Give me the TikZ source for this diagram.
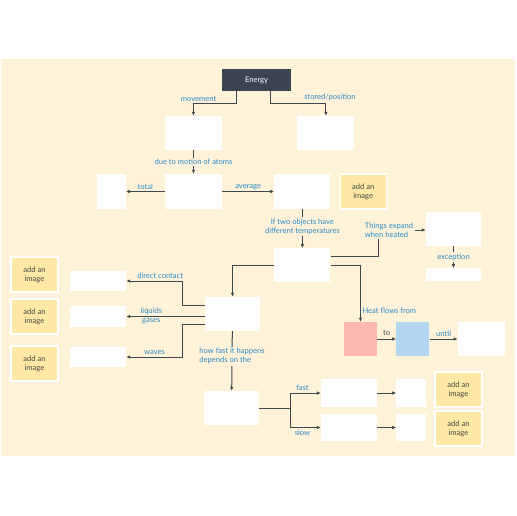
\documentclass[tikz,border=0pt]{standalone}
\usepackage{fontspec}
\setmainfont{Lato}
\usepackage{xcolor}
\usepackage{tikz}
\usetikzlibrary{positioning,arrows.meta}
\definecolor{cream}{HTML}{FEF2D9}
\definecolor{slate}{HTML}{3B4551}
\definecolor{wire}{HTML}{3F4650}
\definecolor{inkblue}{HTML}{2A8BC9}
\definecolor{butter}{HTML}{FFE8A3}
\definecolor{hotpink}{HTML}{FFB9B1}
\definecolor{coldblue}{HTML}{B3D7F1}
\definecolor{graytext}{HTML}{474747}

\begin{document}
\begin{tikzpicture}[x=1bp, y=-1bp,
  font=\fontsize{7.6}{9}\selectfont,
  box/.style={fill=white, minimum width=56bp, minimum height=34bp, inner sep=0pt},
  imgbox/.style={fill=butter, draw=white, line width=1.2bp, minimum width=46bp,
      minimum height=35bp, align=center, text=graytext, inner sep=0pt},
  lbl/.style={text=inkblue, inner sep=1.5bp},
  midlbl/.style={lbl, fill=cream, align=center},
  bare/.style={draw=wire, line width=1bp},
  link/.style={bare, -{Latex[length=4bp,width=3.5bp]}},
]
\useasboundingbox (0,0) rectangle (516,516);
\fill[cream] (1,59) rectangle (515,456);

% top of the map
\node[box, fill=slate, text=white, minimum width=69bp, minimum height=22bp] (energy) at (256.5,80) {Energy};
\node[box, minimum width=57bp] (moveBox) at (193.5,133) {};
\node[box, minimum width=57bp, right=75bp of moveBox] (storeBox) {};
\node[box, minimum width=57bp, minimum height=35bp] (motionBox) at (193.5,191.5) {};
\node[box, minimum width=29bp, minimum height=35bp, left=39bp of motionBox] (totalBox) {};
\node[box, minimum height=35bp, right=52bp of motionBox] (avgBox) {};
\node[imgbox, right=9bp of avgBox] (avgImg) {add an\\image};
\node[box, below=39bp of avgBox] (tempBox) {};

% expansion
\node[lbl, align=left] (expandLbl) at (389,230) {Things expand\\when heated};
\node[box, minimum width=55bp] (expandBox) at (453.5,229) {};
\node[box, minimum width=55bp, minimum height=13bp, below=22bp of expandBox] (exceptBox) {};

% heat flow
\node[box, minimum width=55bp] (heatBox) at (232.5,314) {};
\node[box, minimum width=33bp, fill=hotpink] (hotBox) at (360.5,339) {};
\node[box, minimum width=33bp, fill=coldblue, right=19bp of hotBox] (coldBox) {};
\node[box, minimum width=47bp, right=28bp of coldBox] (untilBox) {};

% ways of transfer
\node[box, minimum height=20bp] (contactBox) at (98,281) {};
\node[box, minimum height=21bp] (fluidBox) at (98,316.5) {};
\node[box, minimum height=20bp] (waveBox) at (98,357) {};
\node[imgbox, minimum width=47bp] (contactImg) at (34.5,274.5) {add an\\image};
\node[imgbox, minimum width=47bp] (fluidImg) at (34.5,316.5) {add an\\image};
\node[imgbox, minimum width=47bp] (waveImg) at (34.5,363.5) {add an\\image};

% rate
\node[box, minimum width=55bp] (rateBox) at (231.5,408) {};
\node[box, minimum height=28bp] (fastBox) at (349,393) {};
\node[box, minimum height=27bp] (slowBox) at (349,427.5) {};
\node[box, minimum width=30bp, minimum height=28bp, right=19bp of fastBox] (fastEnd) {};
\node[box, minimum width=30bp, minimum height=27bp, right=19bp of slowBox] (slowEnd) {};
\node[imgbox, minimum width=47bp] (fastImg) at (458.5,389.5) {add an\\image};
\node[imgbox, minimum width=47bp] (slowImg) at (458.5,428.5) {add an\\image};

\draw[link] ([xshift=-20.5bp]energy.south) -- ++(0,12) -| node[lbl, pos=0.44, above]{movement} (moveBox.north);
\draw[link] ([xshift=13.5bp]energy.south) -- ++(0,12) -| node[lbl, pos=0.5, above, xshift=4bp]{stored/position} (storeBox.north);
\draw[link] (moveBox) -- node[midlbl]{due to motion of atoms} (motionBox);
\draw[link] (motionBox) -- node[lbl, above]{total} (totalBox);
\draw[link] (motionBox) -- node[lbl, above]{average} (avgBox);
\draw[link] (avgBox) -- node[midlbl, pos=0.45]{If two objects have\\different temperatures} (tempBox);
\draw[bare] ([yshift=9bp]tempBox.east) -| ([xshift=-11bp]expandLbl.south);
\draw[link] (expandLbl.east) -- (expandLbl.east -| expandBox.west);
\draw[link] (expandBox) -- node[midlbl]{exception} (exceptBox);
\draw[link] (tempBox.west) -| (heatBox.north);
\draw[link] (tempBox.east) -| node[lbl, pos=0.9, right]{Heat flows from} (hotBox.north);
\draw[link] (hotBox) -- node[above, text=graytext]{to} (coldBox);
\draw[link] (coldBox) -- node[lbl, above]{until} (untilBox);
\draw[link] ([yshift=9bp]heatBox.west) -- ++(-22,0) |- node[lbl, pos=0.7, above]{direct contact} (contactBox.east);
\draw[link] (fluidBox.east -| heatBox.west) -- node[lbl, pos=0.68, above]{liquids} node[lbl, pos=0.68, below]{gases} (fluidBox.east);
\draw[link] ([yshift=-10bp]heatBox.west) -- ++(-22,0) |- node[lbl, pos=0.75, above]{waves} (waveBox.east);
\draw[link] (heatBox) -- node[midlbl, align=left, pos=0.42]{how fast it happens\\depends on the} (rateBox);
\draw[link] (rateBox.east) -- ++(31,0) |- node[lbl, pos=0.7, above]{fast} (fastBox.west);
\draw[link] (rateBox.east) -- ++(31,0) |- node[lbl, pos=0.7, below]{slow} (slowBox.west);
\draw[link] (fastBox) -- (fastEnd);
\draw[link] (slowBox) -- (slowEnd);
\end{tikzpicture}
\end{document}
